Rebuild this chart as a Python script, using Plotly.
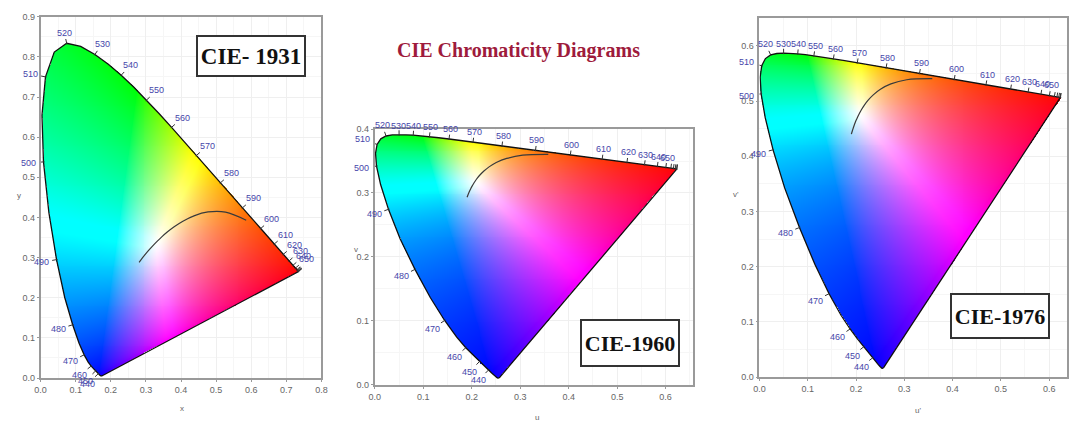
import numpy as np
import base64, zlib, struct
import plotly.graph_objects as go

# ---------------- data ----------------
WAVELENGTH = [380, 385, 390, 395, 400, 405, 410, 415, 420, 425, 430, 435, 440, 445, 450,
              455, 460, 465, 470, 475, 480, 485, 490, 495, 500, 505, 510, 515, 520, 525,
              530, 535, 540, 545, 550, 555, 560, 565, 570, 575, 580, 585, 590, 595, 600,
              605, 610, 615, 620, 625, 630, 635, 640, 645, 650, 655, 660, 665, 670, 675,
              680, 685, 690, 695, 700]
LOCUS_X = [0.1741, 0.1740, 0.1738, 0.1736, 0.1733, 0.1730, 0.1726, 0.1721, 0.1714, 0.1703,
           0.1689, 0.1669, 0.1644, 0.1611, 0.1566, 0.1510, 0.1440, 0.1355, 0.1241, 0.1096,
           0.0913, 0.0687, 0.0454, 0.0235, 0.0082, 0.0039, 0.0139, 0.0389, 0.0743, 0.1142,
           0.1547, 0.1929, 0.2296, 0.2658, 0.3016, 0.3373, 0.3731, 0.4087, 0.4441, 0.4788,
           0.5125, 0.5448, 0.5752, 0.6029, 0.6270, 0.6482, 0.6658, 0.6801, 0.6915, 0.7006,
           0.7079, 0.7140, 0.7190, 0.7230, 0.7260, 0.7283, 0.7300, 0.7311, 0.7320, 0.7327,
           0.7334, 0.7340, 0.7344, 0.7346, 0.7347]
LOCUS_Y = [0.0050, 0.0050, 0.0049, 0.0049, 0.0048, 0.0048, 0.0048, 0.0048, 0.0051, 0.0058,
           0.0069, 0.0086, 0.0109, 0.0138, 0.0177, 0.0227, 0.0297, 0.0399, 0.0578, 0.0868,
           0.1327, 0.2007, 0.2950, 0.4127, 0.5384, 0.6548, 0.7502, 0.8120, 0.8338, 0.8262,
           0.8059, 0.7816, 0.7543, 0.7243, 0.6923, 0.6589, 0.6245, 0.5896, 0.5547, 0.5202,
           0.4866, 0.4544, 0.4242, 0.3965, 0.3725, 0.3514, 0.3340, 0.3197, 0.3083, 0.2993,
           0.2920, 0.2859, 0.2809, 0.2770, 0.2740, 0.2717, 0.2700, 0.2689, 0.2680, 0.2673,
           0.2666, 0.2660, 0.2656, 0.2654, 0.2653]

PLANCK_T = [10000, 9000, 8000, 7000, 6500, 6000, 5500, 5000, 4500, 4000, 3500, 3000, 2500, 2000, 1500]
PLANCK_X = [0.2807, 0.2869, 0.2952, 0.3064, 0.3135, 0.3221, 0.3325, 0.3451, 0.3608, 0.3805,
            0.4053, 0.4369, 0.4770, 0.5267, 0.5857]
PLANCK_Y = [0.2884, 0.2956, 0.3048, 0.3166, 0.3237, 0.3318, 0.3411, 0.3516, 0.3636, 0.3768,
            0.3907, 0.4041, 0.4137, 0.4133, 0.3931]

LABEL_WL = [440, 450, 460, 470, 480, 490, 500, 510, 520, 530, 540, 550, 560, 570, 580,
            590, 600, 610, 620, 630, 640, 650]
TICK_WL = list(range(440, 710, 10))

TITLE = "CIE Chromaticity Diagrams"
PANEL_NAMES = ["CIE- 1931", "CIE-1960", "CIE-1976"]
AXIS_NAMES = [("x", "y"), ("u", "v"), ("u'", "v'")]

W, H = 1073, 427

# ---------------- transforms ----------------
def xy_to_xy(x, y):
    return np.asarray(x, float), np.asarray(y, float)

def xy_to_uv(x, y):
    x = np.asarray(x, float); y = np.asarray(y, float)
    d = -2 * x + 12 * y + 3
    return 4 * x / d, 6 * y / d

def xy_to_uv76(x, y):
    u, v = xy_to_uv(x, y)
    return u, 1.5 * v

def inv_xy(a, b):
    return a, b

def inv_uv(u, v):
    d = 2 * u - 8 * v + 4
    return 3 * u / d, 2 * v / d

def inv_uv76(u, v):
    d = 6 * u - 16 * v + 12
    return 9 * u / d, 4 * v / d

panels = [
    dict(fwd=xy_to_xy, inv=inv_xy, px=(35, 319, 12, 382), xr=(0, 0.8), yr=(0, 0.9),
         box=(248, 52, 104, 36, 23), xt=(178, 413), yt=(13, 195)),
    dict(fwd=xy_to_uv, inv=inv_uv, px=(373, 695, 127, 389), xr=(0, 0.657), yr=(0, 0.4),
         box=(631, 346, 94, 42, 22), xt=(537, 422), yt=(354, 250)),
    dict(fwd=xy_to_uv76, inv=inv_uv76, px=(762, 1073, 13, 381), xr=(0, 0.637), yr=(0, 0.651),
         box=(1005, 318, 94, 40, 22), xt=(922, 415), yt=(738, 194)),
]


def inside_polygon(px, py, vx, vy):
    res = np.zeros(px.shape, bool)
    n = len(vx)
    j = n - 1
    with np.errstate(divide="ignore", invalid="ignore"):
        for i in range(n):
            xi, yi, xj, yj = vx[i], vy[i], vx[j], vy[j]
            if yj != yi:
                c = ((yi > py) != (yj > py)) & (px < (xj - xi) * (py - yi) / (yj - yi) + xi)
                res ^= c
            j = i
    return res


# XYZ -> CIE RGB (primaries at 700 / 546.1 / 435.8 nm)
M = np.array([[2.3646, -0.8965, -0.4681],
              [-0.5152, 1.4264, 0.0888],
              [0.0052, -0.0144, 1.0092]])


def xy_colors(x, y):
    y = np.maximum(y, 1e-6)
    X = x / y
    Z = (1 - x - y) / y
    XYZ = np.stack([X, np.ones_like(X), Z], axis=-1)
    rgb = XYZ @ M.T
    rgb = rgb / np.maximum(np.abs(rgb).max(axis=-1, keepdims=True), 1e-9)
    e = 0.12
    rgb = 0.5 * (rgb + np.sqrt(rgb ** 2 + e * e)) - 0.5 * e
    rgb = np.clip(rgb, 0, None)
    p = 8.0
    nrm = (np.sum(rgb ** p, axis=-1, keepdims=True) / 3.0) ** (1 / p)
    rgb = np.clip(rgb / np.maximum(nrm, 1e-9), 0, 1)
    rgb = np.power(rgb, 1 / 1.6)
    return rgb


def png_uri(rgba):
    h, w, _ = rgba.shape
    raw = b"".join(b"\x00" + rgba[r].tobytes() for r in range(h))

    def chunk(t, d):
        c = struct.pack(">I", len(d)) + t + d
        return c + struct.pack(">I", zlib.crc32(t + d) & 0xFFFFFFFF)

    png = (b"\x89PNG\r\n\x1a\n"
           + chunk(b"IHDR", struct.pack(">IIBBBBB", w, h, 8, 6, 0, 0, 0))
           + chunk(b"IDAT", zlib.compress(raw, 9))
           + chunk(b"IEND", b""))
    return "data:image/png;base64," + base64.b64encode(png).decode()


fig = go.Figure()
annotations = []
layout_axes = {}

wl = np.array(WAVELENGTH)
lx = np.array(LOCUS_X); ly = np.array(LOCUS_Y)

for k, p in enumerate(panels):
    ax = "" if k == 0 else str(k + 1)
    xref, yref = "x" + ax, "y" + ax
    L, R, T, B = p["px"]
    x0r, x1r = p["xr"]; y0r, y1r = p["yr"]
    nx, ny = R - L, B - T
    sx = nx / (x1r - x0r); sy = ny / (y1r - y0r)

    def to_paper(a, b, L=L, B=B, sx=sx, sy=sy, x0r=x0r, y0r=y0r):
        return (L + (a - x0r) * sx) / W, (H - B + (b - y0r) * sy) / H

    ca, cb = p["fwd"](lx, ly)

    dx = (x1r - x0r) / nx; dy = (y1r - y0r) / ny
    gx = x0r + dx * (np.arange(nx) + 0.5)
    gy = y0r + dy * (np.arange(ny) + 0.5)
    GX, GY = np.meshgrid(gx, gy)
    m = inside_polygon(GX, GY, ca, cb)
    X, Y = p["inv"](GX, GY)
    col = xy_colors(X, Y)
    rgba = np.zeros((ny, nx, 4), np.uint8)
    rgba[..., :3] = (col * 255).round().astype(np.uint8)
    rgba[..., 3] = np.where(m, 255, 0).astype(np.uint8)
    fig.add_trace(go.Image(source=png_uri(rgba), x0=gx[0], dx=dx, y0=gy[0], dy=dy,
                           xaxis=xref, yaxis=yref, hoverinfo="skip"))

    fig.add_trace(go.Scatter(x=np.append(ca, ca[0]), y=np.append(cb, cb[0]), mode="lines",
                             line=dict(color="#111111", width=1.3), xaxis=xref, yaxis=yref,
                             hoverinfo="skip", showlegend=False))

    PX = ca * sx; PY = cb * sy
    n = len(PX)

    def normal(i, PX=PX, PY=PY, n=n):
        a = max(i - 1, 0); b = min(i + 1, n - 1)
        tx = PX[b] - PX[a]; ty = PY[b] - PY[a]
        ln = np.hypot(tx, ty)
        if ln < 0.5:
            tx, ty = PX[-1] - PX[-10], PY[-1] - PY[-10]
            ln = np.hypot(tx, ty)
        tx /= ln; ty /= ln
        return -ty, tx

    tkx, tky = [], []
    for w_ in TICK_WL:
        i = int(np.where(wl == w_)[0][0])
        nxn, nyn = normal(i)
        tkx += [(PX[i] - 1 * nxn) / sx, (PX[i] + 4.5 * nxn) / sx, None]
        tky += [(PY[i] - 1 * nyn) / sy, (PY[i] + 4.5 * nyn) / sy, None]
    fig.add_trace(go.Scatter(x=tkx, y=tky, mode="lines", line=dict(color="#333333", width=1),
                             xaxis=xref, yaxis=yref, hoverinfo="skip", showlegend=False,
                             cliponaxis=False))

    for w_ in LABEL_WL:
        i = int(np.where(wl == w_)[0][0])
        nxn, nyn = normal(i)
        d = 6 + 9 * abs(nxn) + 3 * abs(nyn)
        la = (PX[i] + d * nxn) / sx
        lb = (PY[i] + d * nyn) / sy
        pxp, pyp = to_paper(la, lb)
        annotations.append(dict(x=pxp, y=pyp, xref="paper", yref="paper", showarrow=False,
                                text=str(w_), xanchor="center", yanchor="middle",
                                font=dict(family="Liberation Sans", size=9, color="#4646aa")))

    pa, pb = p["fwd"](np.array(PLANCK_X), np.array(PLANCK_Y))
    fig.add_trace(go.Scatter(x=pa, y=pb, mode="lines",
                             line=dict(color="#3a3a3a", width=1.2, shape="spline"),
                             xaxis=xref, yaxis=yref, hoverinfo="skip", showlegend=False))

    axstyle = dict(showline=True, linecolor="#9a9a9a", linewidth=1.8, mirror=True,
                   showgrid=True, gridcolor="#efefef", gridwidth=1, zeroline=False,
                   ticks="outside", ticklen=2, tickcolor="#9a9a9a",
                   tickfont=dict(family="Liberation Sans", size=9, color="#666666"),
                   tickformat=".1f", dtick=0.1, tick0=0,
                   minor=dict(dtick=0.05, showgrid=True, gridcolor="#f6f6f6"))
    layout_axes["xaxis" + ax] = dict(axstyle, domain=[L / W, R / W], range=list(p["xr"]),
                                     anchor=yref, autorange=False)
    layout_axes["yaxis" + ax] = dict(axstyle, domain=[1 - B / H, 1 - T / H], range=list(p["yr"]),
                                     anchor=xref, autorange=False, scaleanchor=False)

    bx, by, bw, bh, fs = p["box"]
    annotations.append(dict(x=bx / W, y=1 - by / H, xref="paper", yref="paper", showarrow=False,
                            text="<b>%s</b>" % PANEL_NAMES[k], width=bw, height=bh,
                            font=dict(family="Liberation Serif", size=fs, color="#111111"),
                            bgcolor="white", bordercolor="#333333", borderwidth=2, borderpad=1,
                            xanchor="center", yanchor="middle", align="center", valign="middle"))
    xtn, ytn = AXIS_NAMES[k]
    annotations.append(dict(x=p["xt"][0] / W, y=1 - p["xt"][1] / H, xref="paper", yref="paper",
                            showarrow=False, text=xtn, xanchor="center", yanchor="middle",
                            font=dict(family="Liberation Sans", size=8, color="#666666")))
    annotations.append(dict(x=p["yt"][0] / W, y=1 - p["yt"][1] / H, xref="paper", yref="paper",
                            showarrow=False, text=ytn, xanchor="center", yanchor="middle",
                            font=dict(family="Liberation Sans", size=8, color="#666666")))

annotations.append(dict(x=518 / W, y=1 - 47 / H, xref="paper", yref="paper", showarrow=False,
                        text="<b>%s</b>" % TITLE, xanchor="center", yanchor="middle",
                        font=dict(family="Liberation Serif", size=20, color="#9e1b3c")))

fig.update_layout(width=W, height=H, margin=dict(l=0, r=0, t=0, b=0),
                  paper_bgcolor="white", plot_bgcolor="white", showlegend=False,
                  annotations=annotations, **layout_axes)

fig.write_html("out.html")
